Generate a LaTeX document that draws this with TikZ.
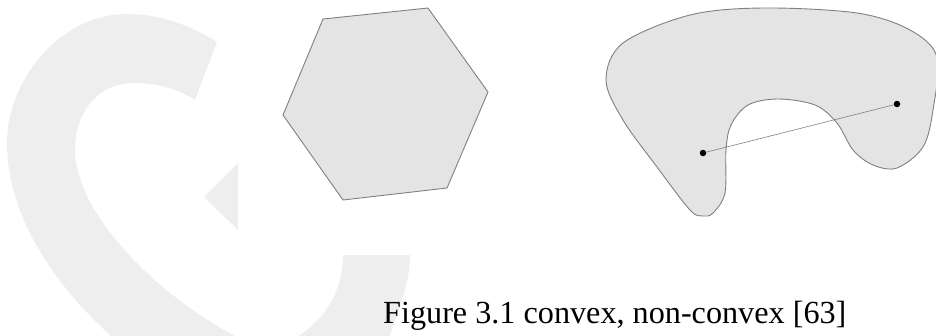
\documentclass[tikz,border=0pt]{standalone}
\usepackage{fontspec}
\setmainfont{Liberation Serif}
\usepackage{tikz}
\usetikzlibrary{positioning}

\definecolor{markgray}{HTML}{EEEEEE}
\definecolor{shapefill}{HTML}{E4E4E4}
\definecolor{shapeline}{HTML}{808080}

\begin{document}
\begin{tikzpicture}[
  x=1pt, y=-1pt,
  region/.style={draw=shapeline, fill=shapefill, line width=0.9pt, line join=round},
  watermark/.style={fill=markgray, draw=none},
  dot/.style={circle, fill=black, inner sep=0pt, minimum size=6.5pt},
  segment/.style={draw=shapeline, line width=0.6pt}
]
  \useasboundingbox (0,0) rectangle (936,335);
  \clip (0,0) rectangle (936,335);

  % faint logo in the background
  \fill[watermark] (217,42) .. controls (190,25) and (160,14) .. (127,14)
    .. controls (60,14) and (7,80) .. (7,143)
    .. controls (7,220) and (60,290) .. (110,335)
    .. controls (170,390) and (260,410) .. (320,390)
    .. controls (360,378) and (385,355) .. (390,335)
    .. controls (402,300) and (410,280) .. (410,255)
    -- (343,255)
    .. controls (343,285) and (330,315) .. (300,335)
    .. controls (285,350) and (255,350) .. (233,335)
    .. controls (150,290) and (75,210) .. (75,150)
    .. controls (75,110) and (100,83) .. (133,83)
    .. controls (160,83) and (180,90) .. (195,100) -- cycle;
  \fill[watermark] (204,197) -- (238,163) -- (238,230) -- cycle;

  % convex
  \draw[region] (323,19) -- (428,8) -- (488,92) -- (447,188) -- (343,200) -- (283,115) -- cycle;

  % non-convex
  \draw[region] plot[smooth cycle, tension=0.55] coordinates {
    (606,80) (623,43) (690,15) (763,8) (857,13) (910,30) (937,57)
    (933,110) (923,147) (897,168) (873,165) (853,150) (837,123)
    (815,105) (778,99) (748,105) (731,125) (726,150) (725,193)
    (713,213) (703,216) (690,210) (657,167) (623,120)};

  \node[dot] (ptA) at (703,153) {};
  \node[dot] (ptB) at (897,104) {};
  \draw[segment] (ptA) -- (ptB);

  \node[anchor=base west, inner sep=0pt, font=\fontsize{32.2}{38}\selectfont] (caption) at (383,323)
    {Figure 3.1 convex, non-convex [63]};
\end{tikzpicture}
\end{document}
